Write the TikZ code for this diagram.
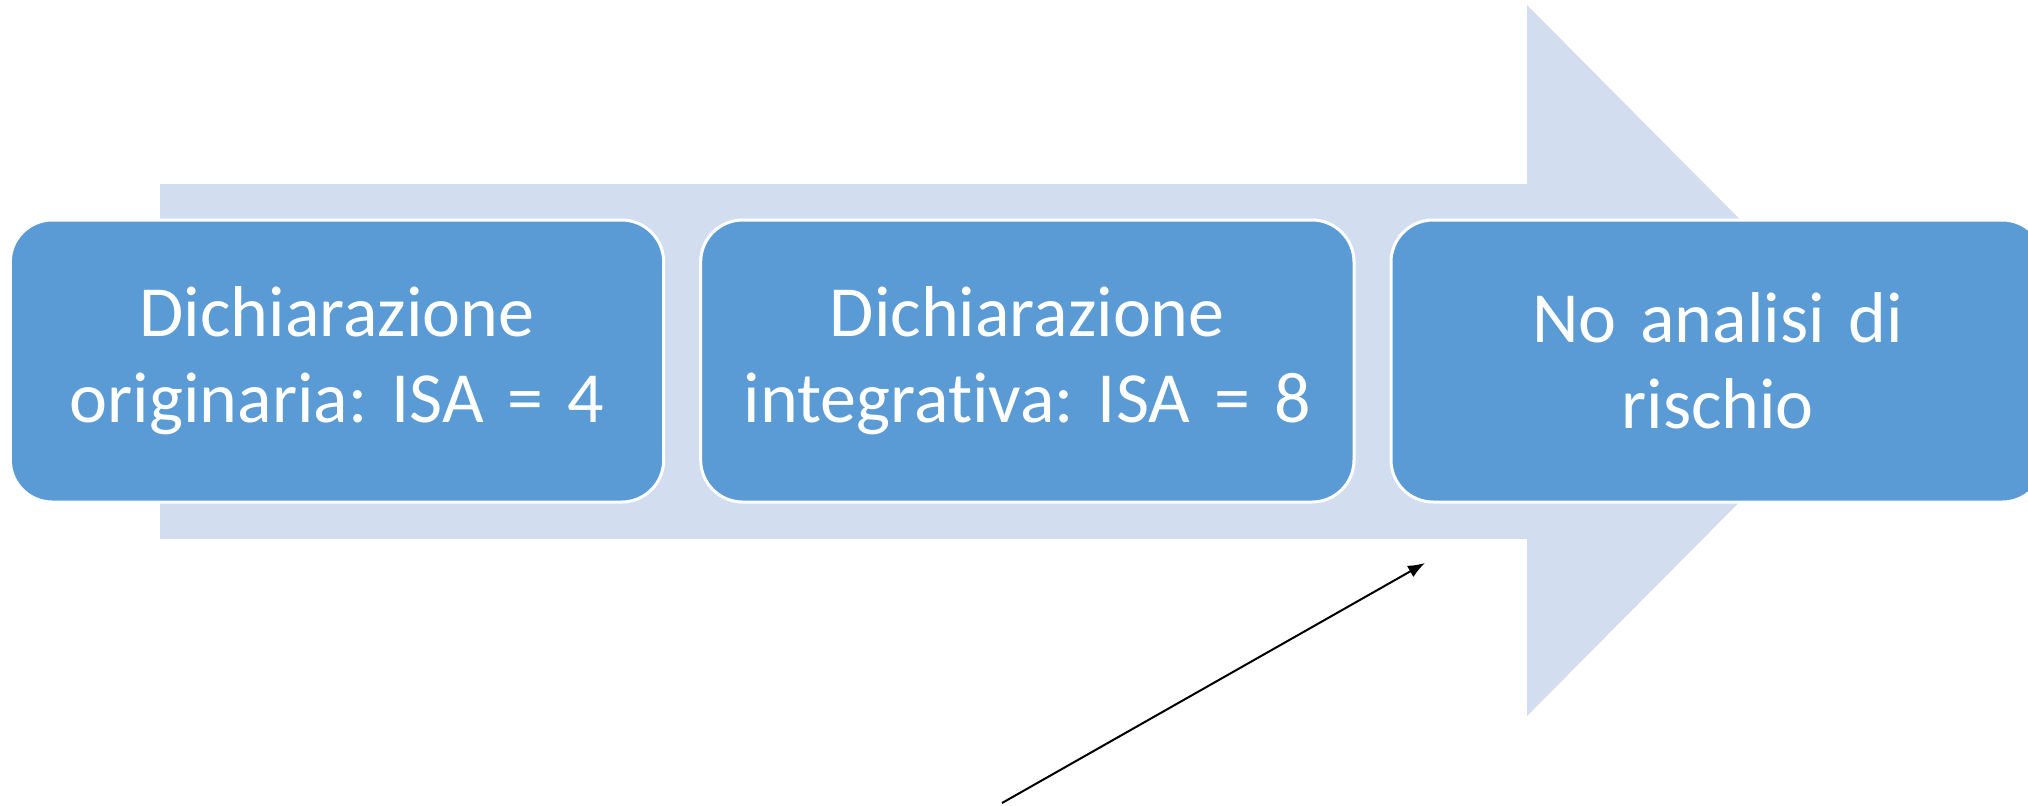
\documentclass[tikz,border=0pt]{standalone}
\usepackage{fontspec}
\setmainfont{Carlito}[Ligatures=NoCommon]
\usepackage{tikz}
\usetikzlibrary{arrows.meta, positioning}
\definecolor{boxblue}{HTML}{5B9BD5}
\definecolor{shaftblue}{HTML}{D2DEEF}
\tikzstyle{stage} = [draw=white, line width=1.5pt, fill=boxblue, rectangle, rounded corners=21pt,
  minimum width=325pt, minimum height=141pt, text width=320pt, align=center, text=white,
  font=\fontsize{36pt}{43pt}\selectfont\frenchspacing]

\begin{document}
\begin{tikzpicture}[x=0.5pt, y=-0.5pt, node distance=17pt, >={Latex[length=8.5pt,width=6.5pt]}]
    \useasboundingbox (0,0) rectangle (2028,805);
    % big background arrow
    \fill [shaftblue] (160,184) -- (1527,184) -- (1527,5) -- (1880,360.5)
        -- (1527,716) -- (1527,539) -- (160,539) -- cycle;
    \node [stage] (orig) at (337,361) {Dichiarazione\\originaria: ISA = 4};
    \node [stage, right=of orig] (integr) {Dichiarazione\\integrativa: ISA = 8};
    \node [stage, right=of integr] (norisk) {No analisi di\\rischio};
    \coordinate (from) at (1002,803);
    \coordinate (to) at (1425,563);
    \draw [->, line width=1pt] (from) -- (to);
\end{tikzpicture}
\end{document}
